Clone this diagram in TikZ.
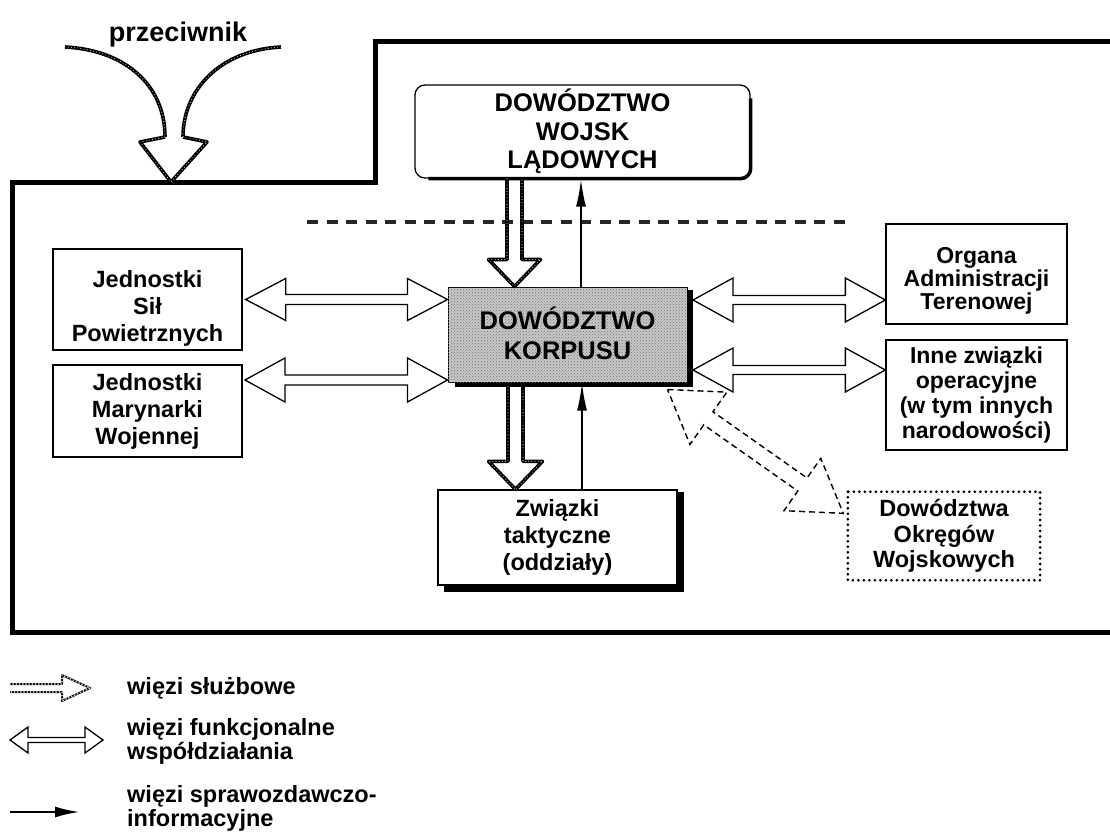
\documentclass[tikz,border=0pt]{standalone}
\usepackage{fontspec}
\setmainfont{Liberation Sans}
\usetikzlibrary{arrows.meta,patterns,calc}
\newcommand{\hdbl}[6]{\draw[#1] let \p1=(#2), \p2=(#3) in (\x1,\y1) -- ({\x1+#4pt},{\y1+#5pt}) -- ({\x1+#4pt},{\y1+#6pt}) -- ({\x2-#4pt},{\y1+#6pt}) -- ({\x2-#4pt},{\y1+#5pt}) -- (\x2,\y1) -- ({\x2-#4pt},{\y1-#5pt}) -- ({\x2-#4pt},{\y1-#6pt}) -- ({\x1+#4pt},{\y1-#6pt}) -- ({\x1+#4pt},{\y1-#5pt}) -- cycle;}
\newcommand{\vsvc}[6]{\draw[#1] let \p1=(#2), \p2=(#3) in ({\x1-#6pt},\y1) -- ({\x1-#6pt},{\y2+#4pt}) -- ({\x1-#5pt},{\y2+#4pt}) -- (\x1,\y2) -- ({\x1+#5pt},{\y2+#4pt}) -- ({\x1+#6pt},{\y2+#4pt}) -- ({\x1+#6pt},\y1);}
\begin{document}
\begin{tikzpicture}[x=1pt,y=-1pt,
  box/.style={draw=black, line width=1.3pt, fill=white, align=center, inner sep=0pt,
    font=\bfseries\fontsize{23.5}{27}\selectfont},
  txt/.style={align=center, inner sep=0pt, font=\bfseries\fontsize{23.5}{27}\selectfont},
  rfont/.style={font=\bfseries\fontsize{23}{25}\selectfont},
  hfont/.style={font=\bfseries\fontsize{25.5}{28.5}\selectfont},
  leg/.style={anchor=west, align=left, inner sep=0pt, font=\bfseries\fontsize{23.5}{24}\selectfont},
  fn/.style={draw=black, line width=1.3pt, line join=miter, fill=white},
  svcA/.style={draw=black, line width=3.6pt, line join=round},
  svcB/.style={draw=white!80!black, line width=1.1pt, dash pattern=on 0pt off 3.2pt, line cap=round, line join=round},
  rep/.style={draw=black, line width=2.2pt, -{Latex[length=28pt,width=10pt]}},
  dsh/.style={draw=black, line width=1.4pt, dash pattern=on 6pt off 4pt},
  shadowfill/.style={fill=black}]
\useasboundingbox (0,0) rectangle (1110,834);

% outer frame
\draw[line width=5pt, line join=miter] (1115,42) -- (375,42) -- (375,183) -- (12,183) -- (12,632) -- (1115,632);

% przeciwnik
\node[font=\bfseries\fontsize{27}{30}\selectfont, anchor=base, inner sep=0pt] (prz) at (178,42) {przeciwnik};
\foreach \s in {svcA,svcB}{
  \draw[\s] (65,47) .. controls (125,50) and (165,85) .. (165,137);
  \draw[\s] (281,47) .. controls (220,50) and (183,90) .. (183,137);
  \draw[\s] (165,137) -- (140,142) -- (171,182) -- (207,142) -- (183,137);
}

% boxes
\node[box, minimum width=189, minimum height=101] (sil) at (147.5,299.5) {};
\node[txt] at ([yshift=-9pt]sil.center) {Jednostki\\Sił\\Powietrznych};
\node[box, minimum width=189, minimum height=92] (mar) at (147.5,411) {Jednostki\\Marynarki\\Wojennej};
\node[box, minimum width=181, minimum height=100] (org) at (976.5,274) {};
\node[txt, font=\bfseries\fontsize{23}{23}\selectfont] at ([yshift=-7pt]org.center) {Organa\\Administracji\\Terenowej};
\node[box, rfont, minimum width=181, minimum height=110] (inne) at (976.5,395) {Inne związki\\operacyjne\\(w tym innych\\narodowości)};

\node[box, hfont, rounded corners=10pt, minimum width=335, minimum height=93] (dwl) at (582.5,131.5) {DOWÓDZTWO\\WOJSK\\LĄDOWYCH};
\draw[line width=3.5pt, rounded corners=10pt] ([yshift=-14pt]dwl.north east) -- (dwl.south east) -- ([xshift=14pt]dwl.south west);

% separator
\draw[line width=4pt, black!85, dash pattern=on 11pt off 8.5pt] (307,222) -- (851,222);

% centre box
\fill[shadowfill] (687,290) rectangle (693,387);
\fill[shadowfill] (455,382) rectangle (693,387);
\node[box, hfont, fill=black!22, postaction={pattern=crosshatch dots, pattern color=black!55}, line width=1pt, minimum width=239, minimum height=95] (korp) at (567.5,334.5) {};
\node[hfont, align=center, text=black, font=\bfseries\fontsize{25.5}{30.5}\selectfont] at ([yshift=1pt]korp.center) {DOWÓDZTWO\\KORPUSU};

% bottom box
\node[box, minimum width=239, minimum height=95] (zw) at (557.5,537.5) {Związki\\taktyczne\\(oddziały)};
\fill[shadowfill] ([yshift=-3pt]zw.north east) rectangle ([xshift=6pt,yshift=-6pt]zw.south east);
\fill[shadowfill] ([xshift=7pt]zw.south west) rectangle ([xshift=6pt,yshift=-6pt]zw.south east);

% dotted box
\node[align=center, inner sep=0pt, font=\bfseries\fontsize{23.5}{25.5}\selectfont, minimum width=192, minimum height=88] (dok) at (944,536) {Dowództwa\\ Okręgów\\Wojskowych};
\draw[line width=3pt, dash pattern=on 0pt off 5.5pt, line cap=round] (dok.north west) rectangle (dok.south east);

% functional double arrows
\coordinate (a1l) at ([xshift=3pt]sil.east);
\hdbl{fn}{a1l}{korp.west |- a1l}{40}{21}{5}
\coordinate (a2l) at (245,380);
\hdbl{fn}{a2l}{korp.west |- a2l}{40}{22}{5}
\coordinate (r1l) at (693,300);
\hdbl{fn}{r1l}{org.west |- r1l}{40}{22}{4.5}
\coordinate (r2l) at (693,370);
\hdbl{fn}{r2l}{inne.west |- r2l}{40}{22}{4.5}

% service arrows
\coordinate (s1) at ([xshift=-68pt]dwl.south);
\coordinate (s2) at (515.5,387);
\foreach \s in {svcA,svcB}{
  \vsvc{\s}{s1}{s1 |- korp.north}{27}{26}{7.5}
  \vsvc{\s}{s2}{s2 |- zw.north}{28}{27}{7.5}
}

% reporting arrows
\draw[rep] ([xshift=13.5pt]korp.north) -- ([xshift=13.5pt]korp.north |- dwl.south);
\draw[rep] ([xshift=24.5pt]zw.north) -- ([xshift=24.5pt]zw.north |- korp.south);

% dashed double arrow
\coordinate (da1) at ([xshift=-20pt,yshift=-7pt]korp.south east);
\begin{scope}[shift={(da1)}, rotate=-35.17]
\draw[dsh] (0,0) -- (50,-32) -- (50,-8) -- (165,-8) -- (165,-32) -- (215,0) -- (165,32) -- (165,8) -- (50,8) -- (50,32) -- cycle;
\end{scope}

% legend
\coordinate (l1a) at (10,688);
\foreach \s in {svcA,svcB}{
  \draw[\s, line width=2pt] (l1a) ++(0,-4) -- ++(52,0) -- ++(0,-9) -- ++(28,13) -- ++(-28,13) -- ++(0,-9) -- ++(-52,0);
}
\coordinate (l2a) at (10,740);
\coordinate (l2b) at (103,740);
\hdbl{fn}{l2a}{l2b}{18}{13}{2.5}
\coordinate (l3a) at (10,812);
\coordinate (l3b) at (80,812);
\draw[draw=black, line width=2.5pt, -{Latex[length=25pt,width=11pt]}] (l3a) -- (l3b);

\node[leg] (t1) at (127,688) {więzi służbowe};
\node[leg] (t2) at (127,741) {więzi funkcjonalne\\współdziałania};
\node[leg] (t3) at (127,808) {więzi sprawozdawczo-\\informacyjne};
\end{tikzpicture}
\end{document}
